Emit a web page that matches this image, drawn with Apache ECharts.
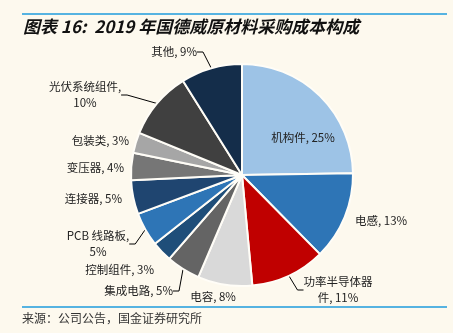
<!DOCTYPE html>
<html>
<head>
<meta charset="utf-8">
<script src="https://cdn.jsdelivr.net/npm/echarts@6/dist/echarts.min.js"></script>
<style>
html,body{margin:0;padding:0;background:#FDF9EE;}
#chart{width:453px;height:333px;}
</style>
</head>
<body>
<div id="chart"></div>
<script>
const categories = ['机构件','电感','功率半导体器件','电容','集成电路','控制组件','PCB 线路板','连接器','变压器','包装类','光伏系统组件','其他'];
const values = [25, 13, 11, 8, 5, 3, 5, 5, 4, 3, 10, 9];
const titleText = '图表 16:  2019 年国德威原材料采购成本构成';
const sourceText = '来源：公司公告，国金证券研究所';

const colors = ['#9DC3E6','#2E75B6','#C00000','#D9D9D9','#646464','#1F4E79','#2E75B6','#1F4570','#767676','#A6A6A6','#404040','#142D4A'];
// label placement (layout only)
const labelPos = [
  {x:303,y:138,align:'center'},
  {x:355,y:221,align:'left'},
  {x:338,y:290,align:'center'},
  {x:213,y:297,align:'center'},
  {x:173,y:291,align:'right'},
  {x:154,y:270,align:'right'},
  {x:98,y:244,align:'center'},
  {x:122,y:199,align:'right'},
  {x:124,y:168,align:'right'},
  {x:129,y:141,align:'right'},
  {x:85,y:95,align:'center'},
  {x:197,y:52,align:'right'}
];
const showLine = [false,false,true,false,true,false,true,false,false,false,true,true];

function labelText(name, v){
  if (name === '光伏系统组件') return name + ',\n' + v + '%';
  if (name === 'PCB 线路板') return name + ',\n' + v + '%';
  if (name === '功率半导体器件') return '功率半导体器\n件, ' + v + '%';
  return name + ', ' + v + '%';
}

const chart = echarts.init(document.getElementById('chart'));
chart.setOption({
  backgroundColor: '#FDF9EE',
  animation: false,
  graphic: [
    {type:'line', shape:{x1:22,y1:14,x2:447,y2:14}, style:{stroke:'#1E9BDD', lineWidth:1.5}},
    {type:'text', left:23, top:18, style:{text:titleText, font:'italic bold 17px "Noto Sans CJK SC", Arial, sans-serif', fill:'#111'}},
    {type:'line', shape:{x1:22,y1:307,x2:447,y2:307}, style:{stroke:'#1E9BDD', lineWidth:1.5}},
    {type:'text', left:22, top:312, style:{text:sourceText, font:'12px "Noto Sans CJK SC", sans-serif', fill:'#333'}}
  ],
  series: [{
    type: 'pie',
    center: [242, 175],
    radius: [0, 111],
    startAngle: 90,
    clockwise: true,
    avoidLabelOverlap: false,
    itemStyle: {borderColor: '#FFFDF7', borderWidth: 2},
    label: {
      show: true,
      position: 'outside',
      color: '#222',
      fontSize: 11.5,
      fontFamily: '"Noto Sans CJK SC", Arial, sans-serif',
      lineHeight: 16,
      formatter: p => labelText(p.name, p.value)
    },
    labelLine: {show: true, length: 6, length2: 6, lineStyle: {color: '#000', width: 1}},
    labelLayout: function (params) {
      const p = labelPos[params.dataIndex];
      return {x: p.x, y: p.y, align: p.align, verticalAlign: 'middle'};
    },
    data: categories.map((c, i) => ({
      name: c,
      value: values[i],
      itemStyle: {color: colors[i]},
      labelLine: {show: showLine[i]}
    }))
  }]
});
</script>
</body>
</html>
